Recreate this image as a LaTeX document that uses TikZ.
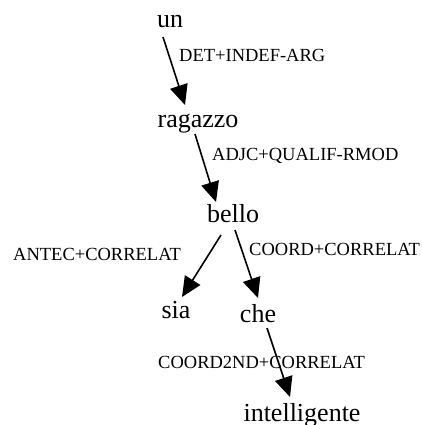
\documentclass[tikz,border=0pt]{standalone}
\usepackage{fontspec}
\setmainfont{Liberation Serif}
\usetikzlibrary{arrows.meta}
\begin{document}
\begin{tikzpicture}[x=1pt,y=-1pt,
  word/.style={inner sep=0pt,anchor=base,font=\fontsize{26}{30}\selectfont},
  lab/.style={inner sep=0pt,anchor=base west,font=\fontsize{18.5}{21}\selectfont},
  arr/.style={line width=1.6pt,-{Triangle[length=20pt,width=18pt]}}]
\useasboundingbox (0,0) rectangle (421,425);
\node[word] (un) at (170,28) {un};
\node[word] (ragazzo) at (198,127) {ragazzo};
\node[word] (bello) at (233,222) {bello};
\node[word] (sia) at (176,318) {sia};
\node[word] (che) at (258,322) {che};
\node[word] (intelligente) at (302,421) {intelligente};
\node[lab] (l1) at (179,62) {DET+INDEF-ARG};
\node[lab] (l2) at (212,160) {ADJC+QUALIF-RMOD};
\node[lab] (l3) at (13,260) {ANTEC+CORRELAT};
\node[lab] (l4) at (249,255) {COORD+CORRELAT};
\node[lab] (l5) at (158,368) {COORD2ND+CORRELAT};
\coordinate (un-o) at (163,37);
\coordinate (rag-i) at (185,105);
\coordinate (rag-o) at (195,134);
\coordinate (bel-i) at (216,202);
\coordinate (bel-o1) at (221,235);
\coordinate (sia-i) at (182,297);
\coordinate (bel-o2) at (235,230);
\coordinate (che-i) at (258,298);
\coordinate (che-o) at (267,328);
\coordinate (int-i) at (290,397);
\draw[arr] (un-o) -- (rag-i);
\draw[arr] (rag-o) -- (bel-i);
\draw[arr] (bel-o1) -- (sia-i);
\draw[arr] (bel-o2) -- (che-i);
\draw[arr] (che-o) -- (int-i);
\end{tikzpicture}
\end{document}
